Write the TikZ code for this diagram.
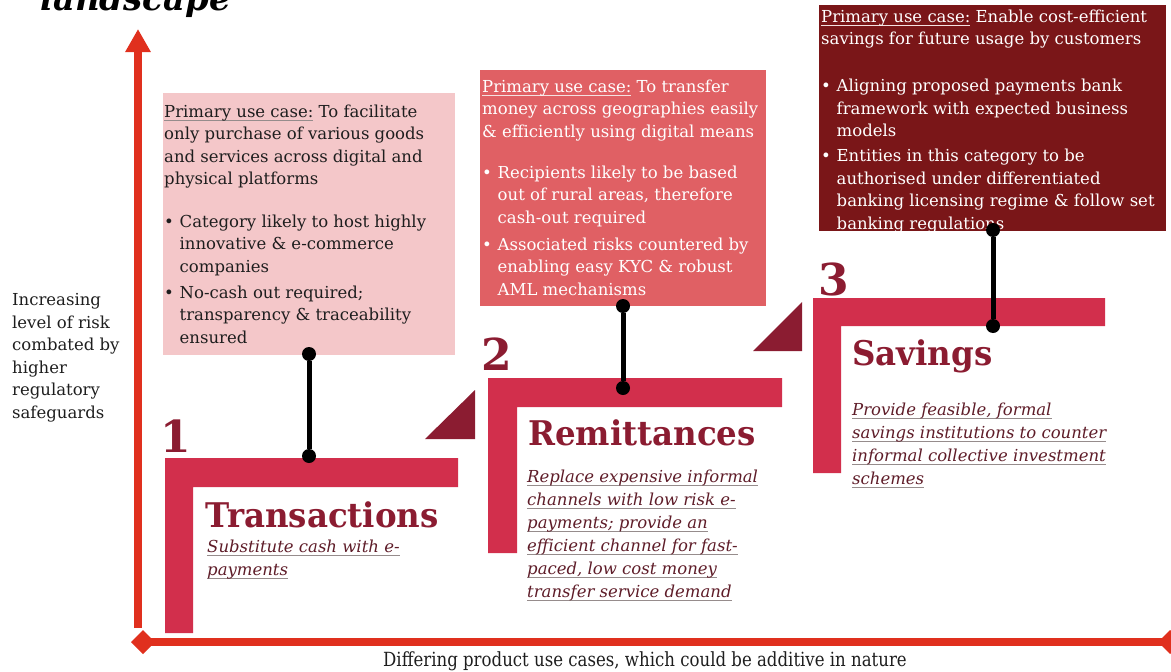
\documentclass[tikz,border=0pt]{standalone}
\usepackage{fontspec}
\setmainfont{DejaVu Serif}
\newfontfamily\condfont{DejaVu Serif}[FakeStretch=0.85]
\newfontfamily\headfont{DejaVu Serif}[FakeStretch=0.955]
\usetikzlibrary{arrows.meta}
\definecolor{axisred}{RGB}{224,48,30}
\definecolor{stepred}{RGB}{210,47,76}
\definecolor{darkred}{RGB}{139,28,49}
\definecolor{boxpink}{RGB}{244,199,201}
\definecolor{boxcoral}{RGB}{224,96,100}
\definecolor{boxmaroon}{RGB}{122,22,24}
\definecolor{itred}{RGB}{94,28,40}
\definecolor{ulgray}{RGB}{150,140,140}
\definecolor{ullight}{RGB}{245,225,225}
\definecolor{txtdark}{RGB}{30,30,30}
\newsavebox\ulbox
\newcommand\ulc[2]{\sbox\ulbox{#2}\rlap{\textcolor{#1}{\rule[-3.5pt]{\wd\ulbox}{1pt}}}\usebox\ulbox}
\newcommand\bul{\makebox[15.5pt][l]{\textbullet}}
\newcommand\ind{\hspace*{15.5pt}}
\tikzset{
  axis/.style={line width=8pt, draw=axisred},
  stepshape/.style={fill=stepred, draw=none},
  wedge/.style={fill=darkred, draw=none},
  conn/.style={line width=5pt, draw=black},
  dot/.style={circle, fill=black, inner sep=0pt, minimum size=14pt},
  panel/.style={anchor=north west, inner sep=0pt, draw=none},
  body/.style={anchor=base west, inner sep=0pt, align=left, font=\fontsize{16.5}{22.5}\selectfont},
  itbody/.style={anchor=base west, inner sep=0pt, align=left, text=itred, font=\fontsize{16.5}{23}\selectfont\itshape},
  heading/.style={anchor=base west, inner sep=0pt, text=darkred, font=\headfont\fontsize{34}{40}\selectfont\bfseries},
  numlabel/.style={anchor=base west, inner sep=0pt, text=darkred, font=\fontsize{44}{50}\selectfont\bfseries},
}
\begin{document}
\begin{tikzpicture}[x=1pt,y=-1pt]
\useasboundingbox (0,0) rectangle (1171,672);

% title fragment
\node[anchor=base west, inner sep=0pt, font=\fontsize{34}{40}\selectfont\bfseries\itshape] (title) at (40,10) {landscape};

% axes
\coordinate (yb) at (138,628);
\coordinate (yt) at (138,29);
\draw[axis, -{Triangle[length=23pt,width=24pt]}] (yb) -- (yt);
\coordinate (xl) at (131,642);
\coordinate (xr) at (1182,642);
\draw[axis, {Diamond[length=24pt,width=24pt]}-{Diamond[length=24pt,width=24pt]}] (xl) -- (xr);

\node[anchor=base, inner sep=0pt, text=txtdark, font=\condfont\fontsize{19.5}{22}\selectfont] (xlabel) at (645,666) {Differing product use cases, which could be additive in nature};

% multi-line nodes: base anchor is the last line's baseline
\node[body, text=txtdark] (ylabel) at (12,418) {Increasing\\level of risk\\combated by\\higher\\regulatory\\safeguards};

% steps
\fill[stepshape] (165,458) -- (458,458) -- (458,487) -- (193,487) -- (193,633) -- (165,633) -- cycle;
\fill[stepshape] (488,378) -- (782,378) -- (782,407) -- (517,407) -- (517,553) -- (488,553) -- cycle;
\fill[stepshape] (813,298) -- (1105,298) -- (1105,326) -- (841,326) -- (841,473) -- (813,473) -- cycle;

% wedges
\fill[wedge] (425,439) -- (475,390) -- (475,439) -- cycle;
\fill[wedge] (753,351) -- (802,302) -- (802,351) -- cycle;

% numbers
\node[numlabel] (n1) at (160,452) {1};
\node[numlabel] (n2) at (481,370) {2};
\node[numlabel] (n3) at (818,295) {3};

% headings
\node[heading] (h1) at (205,527) {Transactions};
\node[heading] (h2) at (528,445) {Remittances};
\node[heading] (h3) at (852,365) {Savings};

% italic descriptions
\node[itbody] (i1) at (207,575) {\ulc{ulgray}{Substitute cash with e-}\\\ulc{ulgray}{payments}};
\node[itbody] (i2) at (527,597) {\ulc{ulgray}{Replace expensive informal}\\\ulc{ulgray}{channels with low risk e-}\\\ulc{ulgray}{payments; provide an}\\\ulc{ulgray}{efficient channel for fast-}\\\ulc{ulgray}{paced, low cost money}\\\ulc{ulgray}{transfer service demand}};
\node[itbody] (i3) at (852,484) {\ulc{ulgray}{Provide feasible, formal}\\\ulc{ulgray}{savings institutions to counter}\\\ulc{ulgray}{informal collective investment}\\\ulc{ulgray}{schemes}};

% panels
\node[panel, fill=boxpink, minimum width=292pt, minimum height=262pt] (bx1) at (163,93) {};
\node[panel, fill=boxcoral, minimum width=286pt, minimum height=236pt] (bx2) at (480,70) {};
\node[panel, fill=boxmaroon, minimum width=347pt, minimum height=226pt] (bx3) at (819,5) {};

\node[body, text=txtdark] (t1) at (164,343) {\ulc{ulgray}{Primary use case:} To facilitate\\only purchase of various goods\\and services across digital and\\physical platforms\\[20pt]\bul Category likely to host highly\\\ind innovative \& e-commerce\\\ind companies\\[3.5pt]\bul No-cash out required;\\\ind transparency \& traceability\\\ind ensured};

\node[body, text=white] (t2) at (482,295) {\ulc{ullight}{Primary use case:} To transfer\\money across geographies easily\\\& efficiently using digital means\\[18.5pt]\bul Recipients likely to be based\\\ind out of rural areas, therefore\\\ind cash-out required\\[4.5pt]\bul Associated risks countered by\\\ind enabling easy KYC \& robust\\\ind AML mechanisms};

\node[body, text=white] (t3) at (821,229) {\ulc{ullight}{Primary use case:} Enable cost-efficient\\savings for future usage by customers\\[24.5pt]\bul Aligning proposed payments bank\\\ind framework with expected business\\\ind models\\[2.5pt]\bul Entities in this category to be\\\ind authorised under differentiated\\\ind banking licensing regime \& follow set\\\ind banking regulations};

% connectors
\node[dot] (d1a) at (309,354) {};
\node[dot] (d1b) at (309,456) {};
\node[dot] (d2a) at (623,306) {};
\node[dot] (d2b) at (623,388) {};
\node[dot] (d3a) at (993,230) {};
\node[dot] (d3b) at (993,326) {};
\draw[conn] (d1a) -- (d1b);
\draw[conn] (d2a) -- (d2b);
\draw[conn] (d3a) -- (d3b);
\end{tikzpicture}
\end{document}
